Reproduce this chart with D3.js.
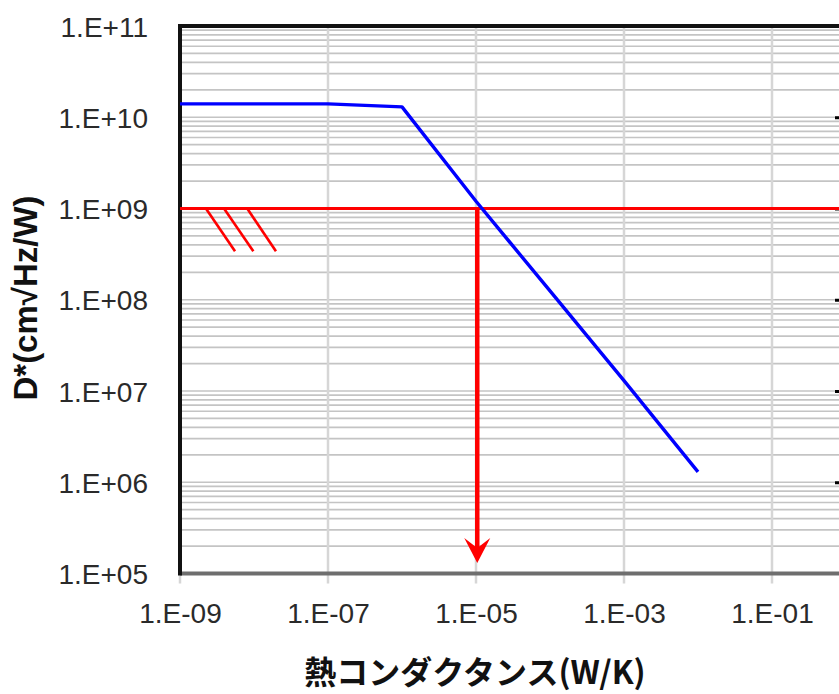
<!DOCTYPE html>
<html>
<head>
<meta charset="utf-8">
<script src="https://cdn.jsdelivr.net/npm/d3@7"></script>
<style>
  html, body { margin: 0; padding: 0; background: #fff; }
  svg { display: block; }
</style>
</head>
<body>
<svg id="chart" width="839" height="694"></svg>
<script>
// Thermal conductance (W/K) vs. detectivity D* (cm√Hz/W)
const conductance = [1e-9, 1e-8, 1e-7, 1e-6, 1e-5, 1e-4, 1e-3, 1e-2];
const detectivity = [1.4e10, 1.4e10, 1.4e10, 1.3e10, 1.2e9, 1.25e8, 1.3e7, 1.3e6];

const targetD = 1e9;
const readoutG = 1.04e-5;
const arrowEndD = 1.3e5;

// Hatch marks under the target line (start on the line, end below it)
const hatchStartG = [2.24e-9, 3.93e-9, 8.1e-9];
const hatchEndG = [5.54e-9, 9.8e-9, 1.98e-8];
const hatchEndD = 3.4e8;

// Axis ticks
const xTickValues = [1e-9, 1e-7, 1e-5, 1e-3, 1e-1];
const yTickValues = [1e5, 1e6, 1e7, 1e8, 1e9, 1e10, 1e11];
const xTickLabels = ["1.E-09", "1.E-07", "1.E-05", "1.E-03", "1.E-01"];
const yTickLabels = ["1.E+05", "1.E+06", "1.E+07", "1.E+08", "1.E+09", "1.E+10", "1.E+11"];

const xTitle = "熱コンダクタンス(W/K)";
const yTitle = "D*(cm√Hz/W)";

const svg = d3.select("#chart");
const W = 839;
const plotLeft = 180, plotTop = 26, plotBottom = 573.5;

const x = d3.scaleLog().domain([1e-9, 1e1]).range([plotLeft, plotLeft + 740]);
const y = d3.scaleLog().domain([1e5, 1e11]).range([plotBottom, plotTop]);

// minor horizontal grid: every k·10^n
const minorY = [];
for (let n = 5; n < 11; n++) for (let k = 1; k < 10; k++) minorY.push(k * Math.pow(10, n));
svg.append("g").selectAll("line").data(minorY).join("line")
  .attr("x1", plotLeft).attr("x2", W)
  .attr("y1", d => y(d)).attr("y2", d => y(d))
  .attr("stroke", "#c4c4c4").attr("stroke-width", 1.7);

// vertical grid lines at labelled decades, running a little below the axis as ticks
svg.append("g").selectAll("line").data(xTickValues).join("line")
  .attr("x1", d => x(d)).attr("x2", d => x(d))
  .attr("y1", plotTop).attr("y2", plotBottom + 10)
  .attr("stroke", "#d6d6d6").attr("stroke-width", 2.5);

// x axis labels
const xAxis = d3.axisBottom(x).tickValues(xTickValues)
  .tickFormat((d, i) => xTickLabels[i]).tickSize(10).tickPadding(19.5);
const gx = svg.append("g").attr("transform", `translate(0,${plotBottom})`).call(xAxis);
gx.select(".domain").remove();
gx.selectAll(".tick line").remove();
gx.selectAll("text").attr("font-family", "Liberation Sans, Arial, sans-serif")
  .attr("font-size", 28).attr("fill", "#2a2a2a");

// y axis labels
const yAxis = d3.axisLeft(y).tickValues(yTickValues)
  .tickFormat((d, i) => yTickLabels[i]).tickSize(0).tickPadding(32);
const gy = svg.append("g").attr("transform", `translate(${plotLeft},0)`).call(yAxis);
gy.select(".domain").remove();
gy.selectAll("text").attr("font-family", "Liberation Sans, Arial, sans-serif")
  .attr("font-size", 28).attr("fill", "#2a2a2a").attr("dy", "0.36em");

// small ticks of the secondary axis at the right edge
const gr = svg.append("g").attr("transform", `translate(835,0)`)
  .call(d3.axisRight(y).tickValues(yTickValues.slice(1, -1)).tickFormat("").tickSize(5));
gr.select(".domain").remove();
gr.selectAll(".tick line").attr("stroke", "#000").attr("stroke-width", 3);

// plot frame
svg.append("line").attr("x1", plotLeft).attr("x2", W).attr("y1", plotBottom).attr("y2", plotBottom)
  .attr("stroke", "#6e6e6e").attr("stroke-width", 4);
svg.append("line").attr("x1", plotLeft - 2).attr("x2", W).attr("y1", plotTop).attr("y2", plotTop)
  .attr("stroke", "#111").attr("stroke-width", 4);
svg.append("line").attr("x1", plotLeft).attr("x2", plotLeft).attr("y1", plotTop - 2).attr("y2", plotBottom + 2)
  .attr("stroke", "#111").attr("stroke-width", 4);

// target D* line
svg.append("line")
  .attr("x1", x(1e-9)).attr("x2", W)
  .attr("y1", y(targetD)).attr("y2", y(targetD))
  .attr("stroke", "#ff0000").attr("stroke-width", 3.2);

// hatch marks
svg.append("g").selectAll("line").data(hatchStartG).join("line")
  .attr("x1", d => x(d)).attr("y1", y(targetD))
  .attr("x2", (d, i) => x(hatchEndG[i])).attr("y2", y(hatchEndD))
  .attr("stroke", "#ff0000").attr("stroke-width", 2.6);

// detectivity curve
const line = d3.line().x(d => x(d[0])).y(d => y(d[1]));
svg.append("path")
  .datum(conductance.map((g, i) => [g, detectivity[i]]))
  .attr("d", line)
  .attr("fill", "none").attr("stroke", "#0000ff").attr("stroke-width", 3.4)
  .attr("stroke-linejoin", "round");

// readout arrow: shaft plus a notched head whose tip sits at arrowEndD
const ax = x(readoutG), tipY = y(arrowEndD);
svg.append("line")
  .attr("x1", ax).attr("x2", ax)
  .attr("y1", y(targetD)).attr("y2", tipY - 14)
  .attr("stroke", "#ff0000").attr("stroke-width", 4.5);
const head = d3.path();
head.moveTo(ax, tipY);
head.lineTo(ax - 13, tipY - 25);
head.lineTo(ax, tipY - 15);
head.lineTo(ax + 13, tipY - 25);
head.closePath();
svg.append("path").attr("d", head.toString()).attr("fill", "#ff0000");

// axis titles
svg.append("text")
  .attr("x", 475).attr("y", 684).attr("text-anchor", "middle")
  .attr("font-family", "Noto Sans CJK JP, sans-serif").attr("font-weight", 700)
  .attr("font-size", 32).attr("fill", "#111").text(xTitle);
svg.append("text")
  .attr("transform", "translate(37,298) rotate(-90)").attr("text-anchor", "middle")
  .attr("font-family", "Liberation Sans, Arial, sans-serif").attr("font-weight", 700)
  .attr("font-size", 33).attr("fill", "#111").text(yTitle);
</script>
</body>
</html>
